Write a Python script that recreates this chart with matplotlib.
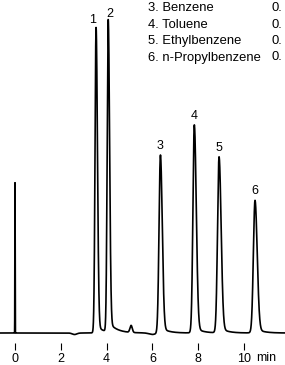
import numpy as np
import matplotlib
matplotlib.use("Agg")
import matplotlib.pyplot as plt

plt.rcParams['font.family'] = ['Liberation Sans', 'DejaVu Sans']

# ---- data ----
peak_labels = ["1", "2", "3", "4", "5", "6"]
peak_times = [3.54, 4.07, 6.35, 7.83, 8.91, 10.48]        # min
peak_heights = [301, 307, 175, 205, 173, 130]             # signal (a.u.)
peak_sigma_left = [0.045, 0.045, 0.06, 0.06, 0.065, 0.07]
peak_sigma_right = [0.06, 0.06, 0.08, 0.085, 0.09, 0.095]
peak_tail_frac = [0.03, 0.035, 0.035, 0.03, 0.035, 0.04]
peak_tail_tau = [0.25, 0.35, 0.3, 0.3, 0.3, 0.3]
label_dx = [-0.14, 0.06, 0.0, 0.0, 0.0, 0.0]               # min

injection_time = 0.0
injection_height = 151

bl_times = [2.6, 5.07, 6.0]
bl_heights = [-1.5, 7.0, -1.5]
bl_widths = [0.1, 0.05, 0.15]

tick_values = [0, 2, 4, 6, 8, 10]
tick_labels = ["0", "2", "4", "6", "8", "10"]
x_unit = "min"

legend_names = ["3. Benzene", "4. Toluene", "5. Ethylbenzene", "6. n-Propylbenzene"]
legend_values = ["0.", "0.", "0.", "0."]

# ---- build trace ----
t = np.linspace(-0.65, 11.8, 8000)
y = np.zeros_like(t)
for t0, h, sl, sr, tf, tau in zip(peak_times, peak_heights, peak_sigma_left,
                                  peak_sigma_right, peak_tail_frac, peak_tail_tau):
    d = t - t0
    g = np.where(d < 0, np.exp(-0.5 * (d / sl) ** 2), np.exp(-0.5 * (d / sr) ** 2))
    s = 1.0 / (1.0 + np.exp(-np.clip(d / sl, -50, 50)))
    tail = tf * np.exp(-np.clip(d, 0, None) / tau) * s
    y += h * (g + tail)
for t0, h, w in zip(bl_times, bl_heights, bl_widths):
    y += h * np.exp(-0.5 * ((t - t0) / w) ** 2)
# injection spike
y += injection_height * np.exp(-0.5 * ((t - injection_time) / 0.006) ** 2)

# ---- figure ----
fig = plt.figure(figsize=(2.85, 3.65), dpi=100)
ax = fig.add_axes([0, 15 / 365, 1, 350 / 365])
ax.plot(t, y, color='black', lw=1.2, solid_joinstyle='round')
ax.set_xlim(-15 / 22.9, 270 / 22.9)
ax.set_ylim(-17, 333)

for sp in ax.spines.values():
    sp.set_visible(False)
ax.set_yticks([])
ax.set_xticks(tick_values)
ax.set_xticklabels(tick_labels)
ax.tick_params(axis='x', direction='in', length=5, width=0.8, pad=2.5,
               labelsize=9, colors='black')

ax.text(10.55, -8 / 350, x_unit, transform=ax.get_xaxis_transform(),
        fontsize=9, ha='left', va='center')

for lab, t0, h, dx in zip(peak_labels, peak_times, peak_heights, label_dx):
    ax.annotate(lab, xy=(t0 + dx, h), xytext=(0, 4), textcoords='offset points',
                ha='center', va='bottom', fontsize=9)

# legend-like text block (partially cropped at top)
for i, (nm, val) in enumerate(zip(legend_names, legend_values)):
    ypx = 8 + i * 16.5
    fig.text(148 / 285, 1 - ypx / 365, nm, ha='left', va='center', fontsize=9.4)
    fig.text(272 / 285, 1 - ypx / 365, val, ha='left', va='center', fontsize=9.4)

fig.savefig("out.png", dpi=100)
